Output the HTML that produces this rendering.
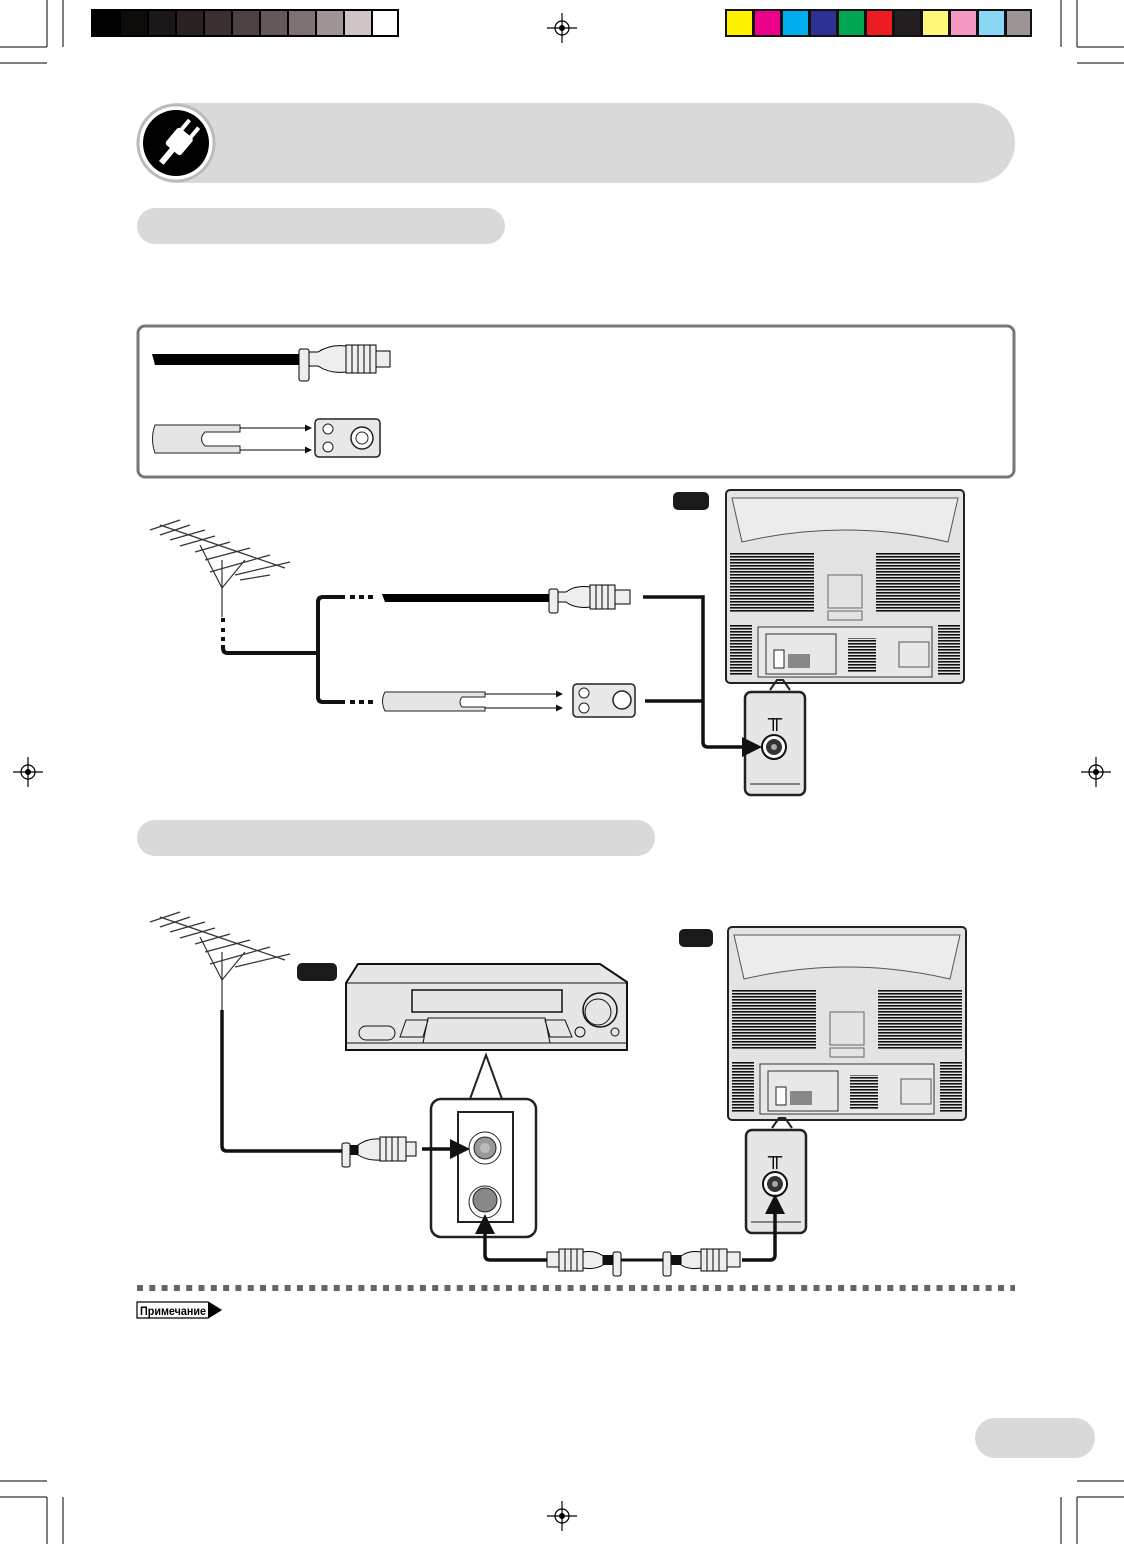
<!DOCTYPE html>
<html><head><meta charset="utf-8"><style>
html,body{margin:0;padding:0;background:#fff}
svg{display:block}
text{font-family:"Liberation Sans",sans-serif}
</style></head><body>
<svg width="1124" height="1544" viewBox="0 0 1124 1544" xmlns="http://www.w3.org/2000/svg">
<defs>
<pattern id="vent" width="4" height="3" patternUnits="userSpaceOnUse"><rect width="4" height="1.6" fill="#111"/></pattern>
<g id="tv">
 <rect x="0" y="0" width="238" height="193" rx="4" fill="#e3e3e3" stroke="#222" stroke-width="2"/>
 <path d="M6 8 L232 8 L222 52 Q119 28 16 52 Z" fill="#ececec" stroke="#555" stroke-width="1"/>
 <rect x="4" y="62" width="84" height="60" fill="url(#vent)"/>
 <rect x="150" y="62" width="84" height="60" fill="url(#vent)"/>
 <rect x="102" y="85" width="34" height="33" fill="none" stroke="#666"/>
 <rect x="102" y="121" width="34" height="9" fill="none" stroke="#666"/>
 <rect x="4" y="135" width="22" height="50" fill="url(#vent)"/>
 <rect x="212" y="135" width="22" height="50" fill="url(#vent)"/>
 <rect x="32" y="137" width="174" height="50" fill="#e8e8e8" stroke="#333"/>
 <rect x="40" y="144" width="70" height="40" fill="none" stroke="#333"/>
 <rect x="48" y="160" width="10" height="18" fill="#fff" stroke="#222"/>
 <rect x="62" y="164" width="22" height="14" fill="#888"/>
 <rect x="122" y="148" width="28" height="34" fill="url(#vent)"/>
 <rect x="173" y="152" width="30" height="25" fill="none" stroke="#555"/>
</g>
<marker id="ah" markerUnits="userSpaceOnUse" markerWidth="7" markerHeight="7" refX="6" refY="3.5" orient="auto"><path d="M0 0 L7 3.5 L0 7 Z" fill="#111"/></marker>
</defs>

<!-- crop marks -->
<g stroke="#000" stroke-width="1">
<line x1="0" y1="47" x2="47" y2="47"/><line x1="47" y1="0" x2="47" y2="47"/><line x1="63" y1="0" x2="63" y2="47"/><line x1="0" y1="63" x2="47" y2="63"/>
<line x1="1077" y1="47" x2="1124" y2="47"/><line x1="1077" y1="0" x2="1077" y2="47"/><line x1="1061" y1="0" x2="1061" y2="47"/><line x1="1077" y1="63" x2="1124" y2="63"/>
<line x1="0" y1="1481" x2="47" y2="1481"/><line x1="47" y1="1497" x2="47" y2="1544"/><line x1="63" y1="1497" x2="63" y2="1544"/><line x1="0" y1="1497" x2="47" y2="1497"/>
<line x1="1077" y1="1481" x2="1124" y2="1481"/><line x1="1077" y1="1497" x2="1077" y2="1544"/><line x1="1061" y1="1497" x2="1061" y2="1544"/><line x1="1077" y1="1497" x2="1124" y2="1497"/>
</g>
<g fill="none" stroke="#000" stroke-width="1.2">
<circle cx="562" cy="28" r="7"/><line x1="547" y1="28" x2="577" y2="28"/><line x1="562" y1="13" x2="562" y2="43"/>
<circle cx="562" cy="1516" r="7"/><line x1="547" y1="1516" x2="577" y2="1516"/><line x1="562" y1="1501" x2="562" y2="1531"/>
<circle cx="28" cy="772" r="7"/><line x1="13" y1="772" x2="43" y2="772"/><line x1="28" y1="757" x2="28" y2="787"/>
<circle cx="1096" cy="772" r="7"/><line x1="1081" y1="772" x2="1111" y2="772"/><line x1="1096" y1="757" x2="1096" y2="787"/>
</g>
<g fill="#000"><circle cx="562" cy="28" r="3"/><circle cx="562" cy="1516" r="3"/><circle cx="28" cy="772" r="3"/><circle cx="1096" cy="772" r="3"/></g>

<!-- gray bar -->
<rect x="91" y="9" width="308" height="28" fill="#000"/>
<g>
<rect x="93" y="11" width="26" height="24" fill="#000"/>
<rect x="121" y="11" width="26" height="24" fill="#0f0b0b"/>
<rect x="149" y="11" width="26" height="24" fill="#1d1616"/>
<rect x="177" y="11" width="26" height="24" fill="#2a2222"/>
<rect x="205" y="11" width="26" height="24" fill="#3a3030"/>
<rect x="233" y="11" width="26" height="24" fill="#4d4141"/>
<rect x="261" y="11" width="26" height="24" fill="#645858"/>
<rect x="289" y="11" width="26" height="24" fill="#7e7272"/>
<rect x="317" y="11" width="26" height="24" fill="#a09494"/>
<rect x="345" y="11" width="26" height="24" fill="#cfc5c5"/>
<rect x="373" y="11" width="24" height="24" fill="#fff"/>
</g>
<rect x="725" y="9" width="307" height="28" fill="#111"/>
<rect x="727" y="11" width="25" height="24" fill="#fff200"/>
<rect x="755" y="11" width="25" height="24" fill="#ec008c"/>
<rect x="783" y="11" width="25" height="24" fill="#00aeef"/>
<rect x="811" y="11" width="25" height="24" fill="#2e3192"/>
<rect x="839" y="11" width="25" height="24" fill="#00a651"/>
<rect x="867" y="11" width="25" height="24" fill="#ed1c24"/>
<rect x="895" y="11" width="25" height="24" fill="#231f20"/>
<rect x="923" y="11" width="25" height="24" fill="#fff77a"/>
<rect x="951" y="11" width="25" height="24" fill="#f49ac2"/>
<rect x="979" y="11" width="25" height="24" fill="#8ad8f5"/>
<rect x="1007" y="11" width="23" height="24" fill="#9b9595"/>

<!-- header -->
<rect x="137" y="103" width="878" height="80" rx="40" fill="#d9d9d9"/>
<circle cx="176" cy="143" r="38" fill="#fff" stroke="#bbb" stroke-width="3"/>
<circle cx="176" cy="143" r="33" fill="#000"/>
<g transform="rotate(40 178 143)" fill="#fff">
<rect x="168" y="130" width="20" height="22" rx="3"/>
<rect x="170" y="118" width="4" height="13"/><rect x="182" y="118" width="4" height="13"/>
<rect x="175" y="151" width="6" height="18"/>
</g>

<rect x="137" y="208" width="368" height="36" rx="18" fill="#d9d9d9"/>

<!-- box -->
<rect x="138" y="326" width="876" height="151" rx="7" fill="#fff" stroke="#777" stroke-width="3"/>
<path d="M152 354 L300 354 L300 365 L155 365 Z" fill="#000"/>
<rect x="299" y="349" width="10" height="32" rx="2" fill="#eee" stroke="#000"/>
<path d="M309 352 L318 352 Q330 344 346 346 L346 372 Q330 374 318 366 L309 366 Z" fill="#eee" stroke="#000"/>
<rect x="346" y="345" width="30" height="28" fill="#eee" stroke="#000"/>
<g stroke="#000"><line x1="352" y1="345" x2="352" y2="373"/><line x1="358" y1="345" x2="358" y2="373"/><line x1="364" y1="345" x2="364" y2="373"/><line x1="370" y1="345" x2="370" y2="373"/></g>
<rect x="376" y="351" width="14" height="16" fill="#eee" stroke="#000"/>
<path d="M155 425 L240 425 L240 432 L205 432 Q198 439 205 446 L240 446 L240 453 L155 453 Q150 439 155 425 Z" fill="#e5e5e5" stroke="#222"/>
<line x1="240" y1="428" x2="311" y2="428" stroke="#000" marker-end="url(#ah)"/>
<line x1="240" y1="450" x2="311" y2="450" stroke="#000" marker-end="url(#ah)"/>
<rect x="315" y="419" width="65" height="38" rx="4" fill="#e8e8e8" stroke="#222" stroke-width="1.5"/>
<circle cx="328" cy="429" r="5" fill="#fff" stroke="#222"/><circle cx="328" cy="447" r="5" fill="#fff" stroke="#222"/>
<circle cx="362" cy="438" r="11" fill="#fff" stroke="#222" stroke-width="1.5"/><circle cx="362" cy="438" r="6" fill="none" stroke="#222"/>

<!-- section 1 diagram -->
<rect x="673" y="492" width="36" height="18" rx="5" fill="#1a1a1a"/>
<use href="#tv" x="726" y="490"/>
<g stroke="#333" stroke-width="1.2" fill="none">
<line x1="160" y1="525" x2="285" y2="568"/>
<line x1="150" y1="530" x2="180" y2="520"/><line x1="160" y1="535" x2="190" y2="525"/><line x1="170" y1="540" x2="205" y2="530"/>
<line x1="180" y1="546" x2="215" y2="536"/><line x1="195" y1="552" x2="230" y2="542"/><line x1="205" y1="560" x2="250" y2="548"/>
<line x1="210" y1="572" x2="270" y2="555"/><line x1="235" y1="575" x2="290" y2="562"/><line x1="240" y1="580" x2="270" y2="575"/>
<line x1="200" y1="545" x2="222" y2="588"/><line x1="245" y1="560" x2="222" y2="588"/><line x1="222" y1="560" x2="222" y2="617"/>
</g>
<path d="M223 618 L223 622" stroke="#111" stroke-width="4"/>
<path d="M223 628 L223 632 M223 637 L223 641" stroke="#111" stroke-width="4"/>
<path d="M223 645 L223 648 Q223 653 228 653 L318 653" fill="none" stroke="#111" stroke-width="4"/>
<path d="M318 602 Q318 597 323 597 L345 597 M318 602 L318 697 Q318 702 323 702 L345 702" fill="none" stroke="#111" stroke-width="4"/>
<path d="M350 597 H377 M350 702 H377" stroke="#111" stroke-width="4" stroke-dasharray="5,4"/>
<path d="M382 594 L550 594 L550 602 L385 602 Z" fill="#000"/>
<rect x="549" y="589" width="9" height="24" rx="2" fill="#eee" stroke="#000"/>
<path d="M558 592 L566 592 Q575 585 590 587 L590 607 Q575 609 566 602 L558 602 Z" fill="#eee" stroke="#000"/>
<rect x="590" y="585" width="25" height="24" fill="#eee" stroke="#000"/>
<g stroke="#000"><line x1="596" y1="585" x2="596" y2="609"/><line x1="602" y1="585" x2="602" y2="609"/><line x1="608" y1="585" x2="608" y2="609"/></g>
<rect x="615" y="590" width="15" height="14" fill="#eee" stroke="#000"/>
<path d="M385 692 L485 692 L485 697 L462 697 Q458 702 462 707 L485 707 L485 711 L385 711 Q380 701 385 692 Z" fill="#e5e5e5" stroke="#222"/>
<line x1="485" y1="694" x2="562" y2="694" stroke="#000" marker-end="url(#ah)"/>
<line x1="485" y1="708" x2="562" y2="708" stroke="#000" marker-end="url(#ah)"/>
<rect x="573" y="684" width="62" height="33" rx="4" fill="#e8e8e8" stroke="#222" stroke-width="1.5"/>
<circle cx="584" cy="693" r="5" fill="#fff" stroke="#222"/><circle cx="584" cy="708" r="5" fill="#fff" stroke="#222"/>
<circle cx="622" cy="700" r="9" fill="#fff" stroke="#222" stroke-width="1.5"/>
<line x1="645" y1="701" x2="703" y2="701" stroke="#111" stroke-width="3.5"/>
<!-- inset 1 -->
<path d="M770 690 L777 680 L783 680 L790 690" fill="none" stroke="#222" stroke-width="2"/>
<rect x="745" y="692" width="60" height="103" rx="6" fill="#e6e6e6" stroke="#222" stroke-width="2.5"/>
<line x1="750" y1="784" x2="800" y2="784" stroke="#222"/>
<text x="775" y="725" text-anchor="middle" font-size="20" fill="#000">╥</text>
<circle cx="774" cy="747" r="12" fill="#fff" stroke="#111" stroke-width="2"/>
<circle cx="774" cy="747" r="8" fill="#333"/><circle cx="774" cy="747" r="3" fill="#aaa"/>
<path d="M643 597 L703 597 L703 742 Q703 747 708 747 L748 747" fill="none" stroke="#111" stroke-width="3.5"/>
<polygon points="742,737 762,747 742,757" fill="#111"/>

<!-- section 2 -->
<rect x="137" y="820" width="518" height="36" rx="18" fill="#d9d9d9"/>
<rect x="679" y="929" width="34" height="18" rx="5" fill="#1a1a1a"/>
<use href="#tv" x="728" y="927"/>
<rect x="297" y="963" width="40" height="18" rx="5" fill="#1a1a1a"/>
<g stroke="#333" stroke-width="1.2" fill="none">
<line x1="160" y1="917" x2="285" y2="960"/>
<line x1="150" y1="922" x2="180" y2="912"/><line x1="160" y1="927" x2="190" y2="917"/><line x1="170" y1="932" x2="205" y2="922"/>
<line x1="180" y1="938" x2="215" y2="928"/><line x1="195" y1="944" x2="230" y2="934"/><line x1="205" y1="952" x2="250" y2="940"/>
<line x1="210" y1="964" x2="270" y2="947"/><line x1="235" y1="967" x2="290" y2="954"/>
<line x1="200" y1="937" x2="222" y2="980"/><line x1="245" y1="952" x2="222" y2="980"/><line x1="222" y1="952" x2="222" y2="1010"/>
</g>
<path d="M222 1010 L222 1146 Q222 1151 227 1151 L342 1151" fill="none" stroke="#111" stroke-width="3.5"/>
<!-- VCR -->
<path d="M346 983 L358 964 L600 964 L627 982 L627 1050 L346 1050 Z" fill="#e6e6e6" stroke="#111" stroke-width="2"/>
<line x1="346" y1="983" x2="627" y2="983" stroke="#111"/>
<line x1="346" y1="1043" x2="627" y2="1043" stroke="#111"/>
<rect x="412" y="990" width="150" height="22" fill="none" stroke="#111" stroke-width="1.5"/>
<circle cx="600" cy="1010" r="17" fill="none" stroke="#111" stroke-width="1.5"/>
<circle cx="598" cy="1012" r="13" fill="none" stroke="#111"/>
<rect x="359" y="1026" width="36" height="14" rx="7" fill="none" stroke="#111"/>
<path d="M428 1018 L545 1018 L550 1043 L423 1043 Z" fill="none" stroke="#111"/>
<path d="M406 1020 L428 1020 L423 1037 L400 1037 Z M545 1020 L565 1020 L572 1037 L550 1037 Z" fill="none" stroke="#111"/>
<circle cx="580" cy="1032" r="5" fill="none" stroke="#111"/><circle cx="615" cy="1032" r="4" fill="none" stroke="#111"/>
<!-- VCR inset -->
<path d="M470 1099 L486 1055 L502 1099" fill="none" stroke="#222" stroke-width="2"/>
<rect x="431" y="1099" width="105" height="138" rx="10" fill="#fff" stroke="#222" stroke-width="2.5"/>
<rect x="458" y="1112" width="55" height="110" fill="#fff" stroke="#222" stroke-width="2"/>
<circle cx="485" cy="1148" r="16" fill="#fff" stroke="#222"/><circle cx="485" cy="1148" r="11" fill="#999" stroke="#222"/><circle cx="485" cy="1148" r="5" fill="#bbb"/>
<circle cx="485" cy="1202" r="16" fill="#fff" stroke="#222"/><circle cx="485" cy="1200" r="12" fill="#888" stroke="#222"/>
<!-- input plug -->
<rect x="342" y="1143" width="8" height="24" rx="2" fill="#eee" stroke="#000"/>
<rect x="350" y="1145" width="8" height="10" fill="#111"/>
<path d="M358 1145 Q368 1138 380 1139 L380 1160 Q368 1161 358 1155 Z" fill="#eee" stroke="#000"/>
<rect x="380" y="1137" width="26" height="24" fill="#eee" stroke="#000"/>
<g stroke="#000"><line x1="386" y1="1137" x2="386" y2="1161"/><line x1="392" y1="1137" x2="392" y2="1161"/><line x1="398" y1="1137" x2="398" y2="1161"/></g>
<rect x="406" y="1142" width="10" height="14" fill="#eee" stroke="#000"/>
<line x1="422" y1="1149" x2="454" y2="1149" stroke="#111" stroke-width="3.5"/>
<polygon points="450,1139 470,1149 450,1159" fill="#111"/>
<!-- out cable -->
<path d="M547 1260 L490 1260 Q485 1260 485 1255 L485 1230" fill="none" stroke="#111" stroke-width="3.5"/>
<polygon points="475,1234 485,1214 495,1234" fill="#111"/>
<rect x="547" y="1252" width="12" height="15" fill="#eee" stroke="#000"/>
<rect x="559" y="1249" width="24" height="22" fill="#eee" stroke="#000"/>
<g stroke="#000"><line x1="565" y1="1249" x2="565" y2="1271"/><line x1="571" y1="1249" x2="571" y2="1271"/><line x1="577" y1="1249" x2="577" y2="1271"/></g>
<path d="M583 1252 Q595 1250 603 1256 L603 1265 Q595 1270 583 1268 Z" fill="#eee" stroke="#000"/>
<rect x="603" y="1255" width="10" height="10" fill="#111"/>
<rect x="613" y="1252" width="8" height="24" rx="2" fill="#eee" stroke="#000"/>
<line x1="621" y1="1260" x2="663" y2="1260" stroke="#111" stroke-width="3"/>
<rect x="663" y="1252" width="8" height="24" rx="2" fill="#eee" stroke="#000"/>
<rect x="671" y="1255" width="10" height="10" fill="#111"/>
<path d="M681 1256 Q689 1250 701 1252 L701 1268 Q689 1270 681 1265 Z" fill="#eee" stroke="#000"/>
<rect x="701" y="1249" width="26" height="22" fill="#eee" stroke="#000"/>
<g stroke="#000"><line x1="707" y1="1249" x2="707" y2="1271"/><line x1="713" y1="1249" x2="713" y2="1271"/><line x1="719" y1="1249" x2="719" y2="1271"/></g>
<rect x="727" y="1252" width="13" height="15" fill="#eee" stroke="#000"/>
<!-- TV2 inset -->
<path d="M772 1128 L779 1118 L785 1118 L792 1128" fill="none" stroke="#222" stroke-width="2"/>
<rect x="746" y="1130" width="60" height="103" rx="6" fill="#e6e6e6" stroke="#222" stroke-width="2.5"/>
<line x1="751" y1="1222" x2="801" y2="1222" stroke="#222"/>
<text x="775" y="1163" text-anchor="middle" font-size="20" fill="#000">╥</text>
<circle cx="775" cy="1184" r="12" fill="#fff" stroke="#111" stroke-width="2"/>
<circle cx="775" cy="1184" r="8" fill="#333"/><circle cx="775" cy="1184" r="3" fill="#aaa"/>
<path d="M742 1260 L770 1260 Q775 1260 775 1255 L775 1210" fill="none" stroke="#111" stroke-width="3.5"/>
<polygon points="765,1214 775,1194 785,1214" fill="#111"/>

<!-- dashed line -->
<line x1="137" y1="1288" x2="1015" y2="1288" stroke="#666" stroke-width="6" stroke-dasharray="6,6.3"/>
<path d="M137 1302 L208 1302 L221 1310 L208 1318 L137 1318 Z" fill="#fff" stroke="#000" stroke-width="1.2"/>
<path d="M208 1302 L221 1310 L208 1318 Z" fill="#000"/>
<text x="140" y="1315" font-size="11.5" font-weight="bold" fill="#000" textLength="66" lengthAdjust="spacingAndGlyphs">Примечание</text>

<rect x="975" y="1418" width="120" height="40" rx="20" fill="#d9d9d9"/>
</svg>
</body></html>
